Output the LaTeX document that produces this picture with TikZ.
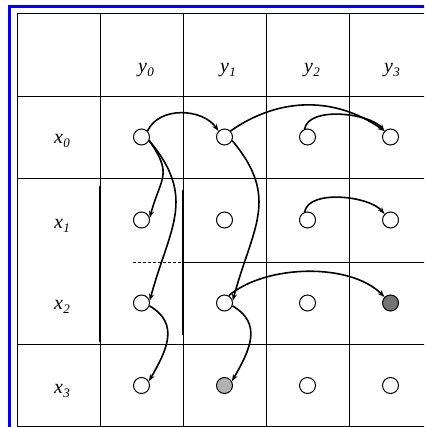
\documentclass[tikz,border=0pt]{standalone}
\usepackage{fontspec}
\setmainfont{Liberation Serif}
\usepackage{tikz}
\usetikzlibrary{arrows.meta,positioning}

\newcommand\cellname[2]{\textit{#1}\kern0.5pt\raisebox{-0.4ex}{\fontsize{13}{13}\selectfont\textit{#2}}}

\begin{document}
\begin{tikzpicture}[
    x=1pt, y=-1pt,
    state/.style={circle, draw, minimum size=16pt, inner sep=0pt, line width=1pt, fill=white},
    hit/.style={state, fill=black!55},
    half hit/.style={state, fill=black!30},
    head text/.style={font=\fontsize{20}{22}\selectfont},
    grid line/.style={line width=0.9pt},
    link/.style={-{Stealth[length=7pt,width=5pt]}, line width=1.6pt}
]
\useasboundingbox (0,0) rectangle (424,427);
\clip (0,0) rectangle (424,427);

% blue frame
\draw[blue, line width=2.5pt] (9.5,440) |- (440,6.5);

% table grid
\draw[grid line] (17,13) rectangle (431,426.5);
\draw[grid line] (17,96) -- (431,96);
\draw[grid line] (17,178) -- (431,178);
\draw[grid line] (183,262) -- (431,262);
\draw[grid line, densely dashed] (133,262) -- (183,262);
\draw[grid line] (17,344) -- (431,344);
\draw[grid line] (100,13) -- (100,426.5);
\draw[grid line] (183,13) -- (183,426.5);
\draw[grid line] (266,13) -- (266,426.5);
\draw[grid line] (349,13) -- (349,426.5);
\draw[line width=1.8pt] (100,186) -- (100,342);
\draw[line width=1.8pt] (183,190) -- (183,335);

% headers
\node[head text] (hy0) at (146,70) {\cellname{y}{0}};
\node[head text] (hy1) at (228,70) {\cellname{y}{1}};
\node[head text] (hy2) at (312,70) {\cellname{y}{2}};
\node[head text] (hy3) at (392,70) {\cellname{y}{3}};
\node[head text] (hx0) at (62,141) {\cellname{x}{0}};
\node[head text] (hx1) at (62,226) {\cellname{x}{1}};
\node[head text] (hx2) at (62,307) {\cellname{x}{2}};
\node[head text] (hx3) at (62,391) {\cellname{x}{3}};

% states
\node[state] (x0y0) at (141.5,137) {};
\node[state] (x0y1) at (224.5,137) {};
\node[state] (x0y2) at (307.5,137) {};
\node[state] (x0y3) at (390.5,137) {};
\node[state] (x1y0) at (141.5,220) {};
\node[state] (x1y1) at (224.5,220) {};
\node[state] (x1y2) at (307.5,220) {};
\node[state] (x1y3) at (390.5,220) {};
\node[state] (x2y0) at (141.5,303) {};
\node[state] (x2y1) at (224.5,303) {};
\node[state] (x2y2) at (307.5,303) {};
\node[hit] (x2y3) at (390.5,303) {};
\node[state] (x3y0) at (141.5,385.5) {};
\node[half hit] (x3y1) at (224.5,385.5) {};
\node[state] (x3y2) at (307.5,385.5) {};
\node[state] (x3y3) at (390.5,385.5) {};

% arcs along the rows
\draw[link] (x0y0.north east) to[out=65, in=125] (x0y1.north west);
\draw[link] (x0y1.north east) to[out=35, in=145] (x0y3.north west);
\draw[link] (x0y2.110) to[out=80, in=130, looseness=0.75] (x0y3.north west);
\draw[link] (x1y2.110) to[out=80, in=130, looseness=0.75] (x1y3.north west);
\draw[link] (x2y1.60) to[out=40, in=135, looseness=0.8] (x2y3.north west);

% arcs down the columns
\draw[link] (x0y0.-25) to[out=-55, in=75, looseness=1.4] (x1y0.15);
\draw[link] (x0y0.-25) to[out=-50, in=75, looseness=1.2] (x2y0.15);
\draw[link] (x2y0.-20) to[out=-30, in=60, looseness=1.2] (x3y0.30);
\draw[link] (x0y1.-25) to[out=-50, in=75, looseness=1.2] (x2y1.15);
\draw[link] (x2y1.-20) to[out=-30, in=60, looseness=1.2] (x3y1.30);

\end{tikzpicture}
\end{document}
